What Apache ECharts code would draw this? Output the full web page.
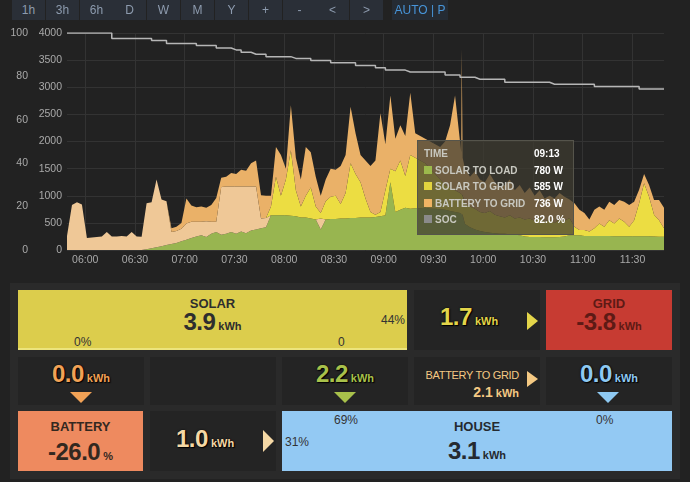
<!DOCTYPE html>
<html>
<head>
<meta charset="utf-8">
<script src="https://cdn.jsdelivr.net/npm/echarts@6/dist/echarts.min.js"></script>
<style>
  html, body { margin: 0; padding: 0; }
  body { width: 690px; height: 482px; background: #222; position: relative; overflow: hidden;
         font-family: "Liberation Sans", Arial, Helvetica, sans-serif; }
  #chart { position: absolute; left: 0; top: 0; width: 690px; height: 272px; }
  .btn { position: absolute; top: 0; height: 20px; line-height: 20px; width: 33px; background: #2a2f37;
         color: #8d9bae; font-size: 12px; text-align: center; }
  .auto { position: absolute; top: 0; left: 392px; width: 56px; height: 20px; line-height: 20px;
          background: #252b33; color: #4794d8; font-size: 12px; text-align: center; }
  .panel { position: absolute; left: 10px; top: 283px; width: 670px; height: 196px; background: #2a2a2a; }
  .box { position: absolute; }
  .cell { background: #242424; }
  .t { position: absolute; white-space: nowrap; font-weight: bold; }
  .num { line-height: 22px; }
  .title { font-size: 13px; line-height: 13px; left: 0; right: 0; text-align: center; }
  .big { font-size: 24px; line-height: 22px; letter-spacing: -0.5px; }
  .unit { font-size: 11px; letter-spacing: 0; margin-left: 3px; }
  .pct { position: absolute; font-size: 12px; line-height: 12px; color: #333; white-space: nowrap; }
  .glow { text-shadow: 0 0 2px #000, 1px 1px 1px #000; }
  .tri-r { position: absolute; width: 0; height: 0; border-style: solid; border-color: transparent; }
  .tri-d { position: absolute; width: 0; height: 0; border-style: solid; border-color: transparent;
           border-width: 11px 11px 0 11px; }
</style>
</head>
<body>
<div id="chart"></div>

<!-- 时间范围按钮 -->
<div class="btn" style="left:12px">1h</div>
<div class="btn" style="left:46px">3h</div>
<div class="btn" style="left:80px">6h</div>
<div class="btn" style="left:113px">D</div>
<div class="btn" style="left:147px">W</div>
<div class="btn" style="left:181px">M</div>
<div class="btn" style="left:215px">Y</div>
<div class="btn" style="left:249px">+</div>
<div class="btn" style="left:283px">-</div>
<div class="btn" style="left:316px">&lt;</div>
<div class="btn" style="left:350px">&gt;</div>
<div class="auto">AUTO | P</div>

<!-- 能量流面板 -->
<div class="panel"></div>

<div class="box" style="left:18px;top:290px;width:389px;height:58px;background:#dccd4c;border-bottom:2px solid #ece47c;color:#2e2e2e">
  <div class="t title" style="top:7px">SOLAR</div>
  <div class="t num" style="top:21px;left:0;right:0;text-align:center"><span class="big">3.9</span><span class="unit">kWh</span></div>
  <div class="pct" style="left:56px;top:46px">0%</div>
  <div class="pct" style="left:320px;top:46px">0</div>
  <div class="pct" style="right:2px;top:24px">44%</div>
</div>
<div class="box cell" style="left:414px;top:290px;width:126px;height:60px">
  <div class="t num glow" style="left:26px;top:16px;color:#e3d54a"><span class="big">1.7</span><span class="unit">kWh</span></div>
  <div class="tri-r" style="left:113px;top:22px;border-width:9px 0 9px 11px;border-left-color:#e3d54a"></div>
</div>
<div class="box" style="left:546px;top:290px;width:126px;height:60px;background:#c73b32;color:#5e1a15">
  <div class="t title" style="top:7px">GRID</div>
  <div class="t num" style="top:21px;left:0;right:0;text-align:center"><span class="big">-3.8</span><span class="unit">kWh</span></div>
</div>

<div class="box cell" style="left:18px;top:357px;width:126px;height:48px">
  <div class="t num glow" style="top:6px;left:0;right:0;text-align:center;color:#f2a256"><span class="big">0.0</span><span class="unit">kWh</span></div>
  <div class="tri-d" style="left:52px;top:35px;border-top-color:#f2a256"></div>
</div>
<div class="box cell" style="left:150px;top:357px;width:126px;height:48px"></div>
<div class="box cell" style="left:282px;top:357px;width:126px;height:48px">
  <div class="t num glow" style="top:6px;left:0;right:0;text-align:center;color:#a8c14b"><span class="big">2.2</span><span class="unit">kWh</span></div>
  <div class="tri-d" style="left:52px;top:35px;border-top-color:#a8c14b"></div>
</div>
<div class="box cell" style="left:414px;top:357px;width:126px;height:48px;color:#f4c983">
  <div class="t" style="right:21px;top:13px;font-size:11px;line-height:11px;font-weight:normal;letter-spacing:-0.3px">BATTERY TO GRID</div>
  <div class="t" style="right:21px;top:28px;line-height:14px"><span style="font-size:14px">2.1</span><span class="unit">kWh</span></div>
  <div class="tri-r" style="left:113px;top:14px;border-width:8px 0 8px 11px;border-left-color:#f4c983"></div>
</div>
<div class="box cell" style="left:546px;top:357px;width:126px;height:48px">
  <div class="t num glow" style="top:6px;left:0;right:0;text-align:center;color:#8ec9f2"><span class="big">0.0</span><span class="unit">kWh</span></div>
  <div class="tri-d" style="left:51px;top:35px;border-top-color:#8ec9f2"></div>
</div>

<div class="box" style="left:18px;top:411px;width:125px;height:60px;background:#ee8a5f;color:#33281f">
  <div class="t title" style="top:9px">BATTERY</div>
  <div class="t num" style="top:30px;left:0;right:0;text-align:center"><span class="big">-26.0</span><span class="unit">%</span></div>
</div>
<div class="box cell" style="left:150px;top:411px;width:126px;height:60px">
  <div class="t num glow" style="left:26px;top:17px;color:#f5d8a5"><span class="big">1.0</span><span class="unit">kWh</span></div>
  <div class="tri-r" style="left:113px;top:19px;border-width:11px 0 11px 11px;border-left-color:#f5d8a5"></div>
</div>
<div class="box" style="left:282px;top:411px;width:390px;height:60px;background:#93c9f3;color:#252a30">
  <div class="pct" style="left:52px;top:3px">69%</div>
  <div class="pct" style="left:314px;top:3px">0%</div>
  <div class="pct" style="left:3px;top:25px">31%</div>
  <div class="t title" style="top:9px">HOUSE</div>
  <div class="t num" style="top:29px;left:0;right:0;text-align:center"><span class="big">3.1</span><span class="unit">kWh</span></div>
</div>

<script>
// 时间点（每3分钟，09:47 附近多取几个点画尖峰）
var times = [
  '05:49','05:52','05:55','05:58','06:01','06:04','06:07','06:10','06:13','06:16',
  '06:19','06:22','06:25','06:28','06:31','06:34','06:37','06:40','06:43','06:46',
  '06:49','06:52','06:55','06:58','07:01','07:04','07:07','07:10','07:13','07:16',
  '07:19','07:22','07:25','07:28','07:31','07:34','07:37','07:40','07:43','07:46',
  '07:49','07:52','07:55','07:58','08:01','08:04','08:07','08:10','08:13','08:16',
  '08:19','08:22','08:25','08:28','08:31','08:34','08:37','08:40','08:43','08:46',
  '08:49','08:52','08:55','08:58','09:01','09:04','09:07','09:10','09:13','09:16',
  '09:19','09:22','09:25','09:28','09:31','09:34','09:37','09:40','09:43','09:46',
  '09:46:45','09:47:00','09:47:20','09:47:35',
  '09:49','09:52','09:55','09:58','10:01','10:04','10:07','10:10','10:13','10:16',
  '10:19','10:22','10:25','10:28','10:31','10:34','10:37','10:40','10:43','10:46',
  '10:49','10:52','10:55','10:58','11:01','11:04','11:07','11:10','11:13','11:16',
  '11:19','11:22','11:25','11:28','11:31','11:34','11:37','11:40','11:43','11:46',
  '11:49'
];
// x轴刻度
var timeTicks = ['06:00','06:30','07:00','07:30','08:00','08:30','09:00','09:30','10:00','10:30','11:00','11:30'];

// 功率 (W)
var solarToLoad = [
  0,0,0,0,0,0,0,0,0,0,
  0,0,0,0,0,0,15,30,50,70,
  90,110,130,160,190,220,250,270,240,300,
  330,280,300,330,300,340,310,360,380,400,
  420,640,640,640,640,630,620,600,600,580,
  560,380,560,570,570,580,580,590,590,600,
  600,600,610,620,640,1250,700,740,780,760,
  770,770,780,760,760,750,740,720,700,680,
  660,660,660,650,
  480,420,380,350,330,320,310,300,300,290,
  280,270,250,240,240,240,235,235,235,240,
  250,270,270,270,260,260,260,260,260,260,
  255,255,255,255,255,255,255,255,250,245,
  245
];
var batteryToLoad = [
  260,830,880,840,220,230,240,250,330,250,
  250,260,250,330,250,245,845,850,1250,860,
  810,220,220,230,300,300,270,250,290,220,
  190,880,870,840,870,830,860,810,790,180,
  170,0,0,0,0,0,0,0,0,0,
  0,200,0,0,0,0,0,0,0,0,
  0,0,0,0,0,0,0,0,0,0,
  0,0,0,0,0,0,0,0,0,0,
  0,0,0,0,
  0,0,0,0,0,0,0,0,0,0,
  0,0,0,0,0,0,0,0,0,0,
  0,0,0,0,0,0,0,0,0,0,
  0,0,0,0,0,0,0,0,0,0,
  0
];
var solarToGrid = [
  0,0,0,0,0,0,0,0,0,0,
  0,0,0,0,0,0,0,0,0,0,
  0,0,0,0,0,0,0,0,0,0,
  0,0,0,0,0,0,0,0,0,0,
  0,160,710,360,660,1210,480,200,400,570,
  240,100,340,410,430,270,470,1010,810,650,
  350,100,40,80,460,250,750,910,585,990,
  930,880,820,740,640,550,460,430,400,370,
  360,360,360,360,
  370,380,380,350,350,400,340,320,300,350,
  300,330,310,340,300,360,285,325,265,320,
  290,320,160,100,110,80,140,230,170,290,
  235,325,265,175,295,605,975,725,400,305,
  155
];
var batteryToGrid = [
  0,0,0,0,0,0,0,0,0,0,
  0,0,0,0,0,0,0,0,0,0,
  0,70,80,110,460,300,270,280,250,310,
  440,170,180,250,230,310,290,430,480,430,
  410,200,550,750,200,830,600,500,900,650,
  550,320,400,520,480,700,700,1040,750,500,
  700,850,1000,1820,850,1350,600,650,736,1150,
  450,450,450,500,550,600,800,1150,1750,950,
  780,2680,2680,690,
  650,550,690,600,570,680,600,530,600,660,
  520,600,490,570,460,500,430,440,450,490,
  440,340,430,370,310,220,340,310,310,340,
  340,340,370,400,340,250,170,220,270,370,
  380
];
// 电量 (%)
var soc = [
  100,100,100,100,100,100,100,100,100,97.5,
  97.5,97.5,97.5,97.5,97.5,97.5,97.5,96.5,96.5,96.5,
  95.2,95.2,95.2,95.2,95.2,95.2,94.2,94.2,94.2,94.2,
  93.1,93.1,93.1,92.2,92.2,91.1,91.1,90.2,90.2,90.2,
  89.1,89.1,89.1,89.1,89.1,88.3,88.3,88.3,88.3,87.3,
  87.3,87.3,87.3,86.3,86.3,86.3,86.3,86.3,85.0,85.0,
  85.0,85.0,84.0,84.0,82.9,82.9,82.9,82.9,82.0,82.0,
  82.0,82.0,82.0,82.0,82.0,82.0,80.6,80.6,80.6,79.6,
  79.6,79.6,79.6,79.6,
  79.6,79.6,78.7,78.7,78.7,78.7,78.7,78.7,77.3,77.3,
  77.3,77.3,77.3,77.3,77.3,77.3,77.3,76.4,76.4,76.4,
  76.4,76.4,76.4,76.4,76.4,76.4,75.3,75.3,75.3,75.3,
  75.3,75.3,75.3,75.3,75.3,74.2,74.2,74.2,74.2,74.2,
  74.2
];
var tipIndex = 68; // 09:13

(function() {
    var myChart = echarts.init(document.getElementById("chart"));
    // 时间字符串 -> 时间戳 / 当天分钟数
    function ts(s) {
        var p = s.split(':');
        return new Date(2024, 0, 1, +p[0], +p[1], +(p[2] || 0)).getTime();
    }
    function mins(s) {
        var p = s.split(':');
        return +p[0] * 60 + +p[1] + (+(p[2] || 0)) / 60;
    }
    function pad(n) { return (n < 10 ? '0' : '') + n; }
    function hmMin(v) { var m = Math.round(v); return pad(Math.floor(m / 60)) + ':' + pad(m % 60); }
    function hmTs(v) { var d = new Date(v); return pad(d.getHours()) + ':' + pad(d.getMinutes()); }
    function pair(arr) {
        return times.map(function(t, i) { return [ts(t), arr[i]]; });
    }
    function area(name, arr, color) {
        return {
            name: name, type: 'line', stack: 'power', yAxisIndex: 0,
            data: pair(arr), symbol: 'none', showSymbol: false,
            lineStyle: { width: 0 },
            areaStyle: { color: color, opacity: 1 },
            itemStyle: { color: color }
        };
    }
    var markColor = {
        'SOLAR TO LOAD': '#9cba4c',
        'SOLAR TO GRID': '#e2d43e',
        'BATTERY TO LOAD': '#e8c497',
        'BATTERY TO GRID': '#f0b464',
        'SOC': '#8a8a8a'
    };
    var gridColor = '#333';
    var labelColor = '#a9a9a9';
    var tickValues = timeTicks.map(mins);

    var option = {
        animation: false,
        textStyle: { fontFamily: '"Liberation Sans", Arial, sans-serif' },
        grid: { left: 67, top: 33, width: 597, height: 217 },
        tooltip: {
            trigger: 'axis',
            axisPointer: { type: 'none' },
            alwaysShowContent: true,
            position: [417, 140],
            transitionDuration: 0,
            backgroundColor: 'rgba(62,60,48,0.72)',
            borderColor: '#55544b',
            borderWidth: 1,
            padding: [5, 6, 5, 6],
            extraCssText: 'width:143px;box-shadow:none;border-radius:0;',
            formatter: function(params) {
                var row = 'display:flex;height:16.6px;line-height:16.6px;white-space:nowrap;';
                var html = '<div style="font:bold 10px \'Liberation Sans\',Arial,sans-serif;color:#c8c8c0">';
                html += '<div style="' + row + '"><span style="width:110px">TIME</span><span style="color:#fff">' +
                    hmTs(params[0].value[0]) + '</span></div>';
                params.forEach(function(p) {
                    var v = p.value[1];
                    if (p.seriesName !== 'SOC' && !v) return;
                    var txt = p.seriesName === 'SOC' ? v.toFixed(1) + ' %' : v + ' W';
                    html += '<div style="' + row + '"><span style="width:110px">' +
                        '<span style="display:inline-block;width:8px;height:8px;margin-right:3px;background:' +
                        markColor[p.seriesName] + '"></span>' + p.seriesName + '</span>' +
                        '<span style="color:#fff">' + txt + '</span></div>';
                });
                return html + '</div>';
            }
        },
        xAxis: [{
            // 数据用的时间轴（按序号堆叠）
            type: 'time',
            min: ts('05:49'),
            max: ts('11:49'),
            axisLine: { show: false },
            axisTick: { show: false },
            axisLabel: { show: false },
            splitLine: { show: false }
        }, {
            // 只负责刻度文字和网格线
            type: 'value',
            position: 'bottom',
            min: mins('05:49'),
            max: mins('11:49'),
            axisPointer: { show: false },
            axisLine: { show: false },
            axisTick: { show: false, customValues: tickValues },
            splitLine: { show: true, lineStyle: { color: gridColor } },
            axisLabel: {
                color: labelColor, fontSize: 10.5, margin: 5,
                customValues: tickValues,
                formatter: function(v) { return hmMin(v); }
            }
        }],
        yAxis: [{
            type: 'value', position: 'left', min: 0, max: 4000, interval: 500,
            axisLine: { show: false }, axisTick: { show: false },
            splitLine: { lineStyle: { color: gridColor } },
            axisLabel: { color: labelColor, fontSize: 10.5, margin: 5, formatter: function(v) { return String(v); } }
        }, {
            type: 'value', position: 'left', offset: 35, min: 0, max: 100, interval: 20,
            axisLine: { show: false }, axisTick: { show: false },
            splitLine: { show: false },
            axisLabel: { color: labelColor, fontSize: 10.5, margin: 4, formatter: function(v) { return String(v); } }
        }],
        series: [
            area('SOLAR TO LOAD', solarToLoad, '#8ba549'),
            area('BATTERY TO LOAD', batteryToLoad, '#dab68a'),
            area('SOLAR TO GRID', solarToGrid, '#d7c93c'),
            area('BATTERY TO GRID', batteryToGrid, '#d5a15f'),
            {
                name: 'SOC', type: 'line', yAxisIndex: 1, step: 'end',
                data: pair(soc), symbol: 'none', showSymbol: false,
                lineStyle: { color: '#a6a6a6', width: 1.5 },
                itemStyle: { color: '#a6a6a6' }
            }
        ]
    };
    myChart.setOption(option);
    myChart.dispatchAction({ type: 'showTip', seriesIndex: 0, dataIndex: tipIndex });
})();
</script>
</body>
</html>
